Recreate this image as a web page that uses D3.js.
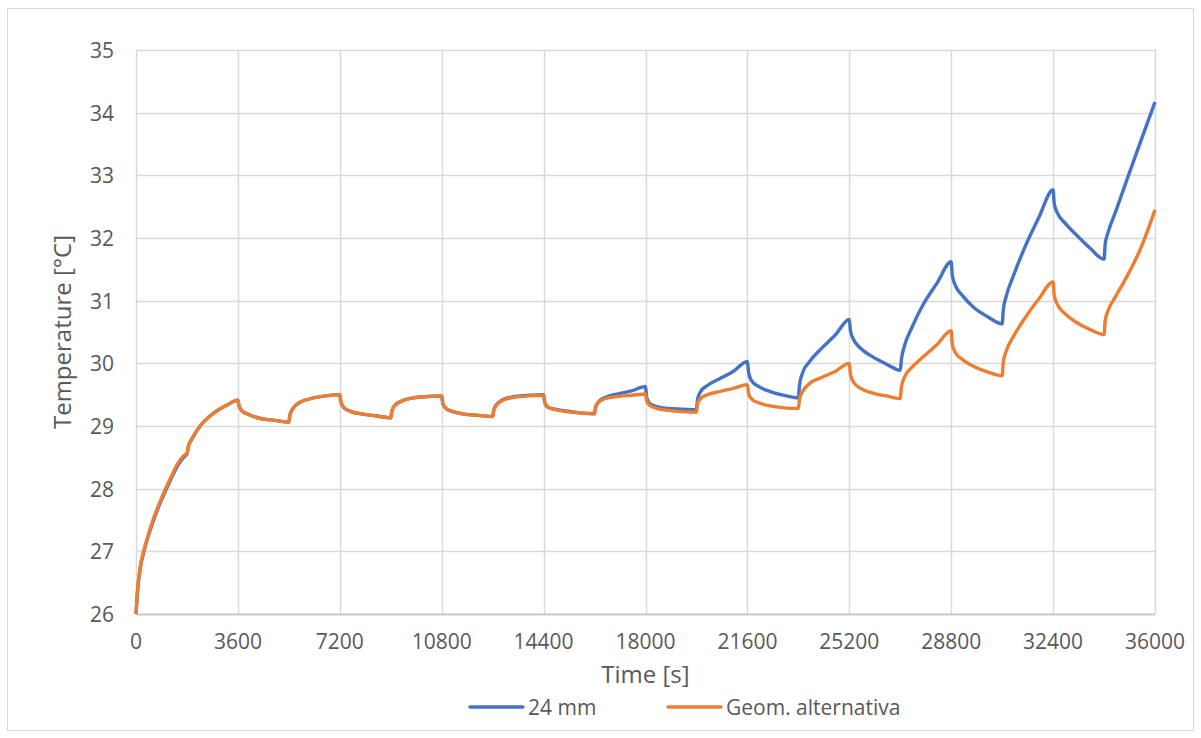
<!DOCTYPE html>
<html>
<head>
<meta charset="utf-8">
<script src="https://cdn.jsdelivr.net/npm/d3@7"></script>
<style>
  body { margin: 0; background: #fff; }
  text { font-family: "Open Sans", "Noto Sans", sans-serif; fill: #595959; }
</style>
</head>
<body>
<script>
// time stamps [s]
const times = [
  0, 50, 150, 300, 600, 900, 1200, 1500, 1750, 1800, 1850, 2000, 2300, 2700, 3200, 3600,
  3640, 3750, 4000, 4400, 4900, 5400,
  5440, 5550, 5800, 6200, 6700, 7200,
  7240, 7350, 7600, 8000, 8500, 9000,
  9040, 9150, 9400, 9800, 10300, 10800,
  10840, 10950, 11200, 11600, 12100, 12600,
  12640, 12750, 13000, 13400, 13900, 14400,
  14440, 14550, 14800, 15200, 15700, 16200,
  16240, 16350, 16600, 17000, 17500, 18000,
  18040, 18150, 18400, 18800, 19300, 19800,
  19840, 19950, 20200, 20600, 21100, 21600,
  21640, 21750, 22000, 22400, 22900, 23400,
  23440, 23550, 23800, 24200, 24700, 25200,
  25240, 25350, 25600, 26000, 26500, 27000,
  27040, 27150, 27400, 27800, 28300, 28800,
  28840, 28950, 29200, 29600, 30100, 30600,
  30640, 30750, 31000, 31400, 31900, 32400,
  32440, 32550, 32800, 33200, 33700, 34200,
  34240, 34350, 34600, 35000, 35500, 36000
];

const temp24mm = [
  26.00, 26.34, 26.73, 27.03, 27.47, 27.82, 28.12, 28.39, 28.53, 28.55, 28.67, 28.81, 29.02, 29.19, 29.33, 29.41,
  29.32, 29.24, 29.18, 29.12, 29.09, 29.06,
  29.18, 29.28, 29.38, 29.44, 29.48, 29.50,
  29.38, 29.29, 29.23, 29.19, 29.16, 29.13,
  29.24, 29.33, 29.40, 29.45, 29.47, 29.48,
  29.36, 29.28, 29.23, 29.19, 29.17, 29.15,
  29.26, 29.35, 29.43, 29.47, 29.49, 29.50,
  29.38, 29.30, 29.27, 29.24, 29.21, 29.20,
  29.31, 29.39, 29.46, 29.51, 29.56, 29.63,
  29.46, 29.36, 29.31, 29.28, 29.27, 29.26,
  29.43, 29.55, 29.65, 29.75, 29.87, 30.03,
  29.86, 29.72, 29.63, 29.55, 29.49, 29.45,
  29.65, 29.85, 30.03, 30.23, 30.45, 30.70,
  30.52, 30.38, 30.24, 30.11, 29.99, 29.89,
  30.06, 30.28, 30.56, 30.93, 31.28, 31.62,
  31.40, 31.24, 31.08, 30.89, 30.74, 30.63,
  30.85, 31.08, 31.40, 31.85, 32.33, 32.77,
  32.55, 32.40, 32.25, 32.06, 31.84, 31.66,
  31.90, 32.10, 32.41, 32.92, 33.55, 34.17
];

const tempAlt = [
  26.00, 26.35, 26.75, 27.05, 27.50, 27.85, 28.15, 28.42, 28.55, 28.56, 28.68, 28.82, 29.02, 29.19, 29.33, 29.41,
  29.32, 29.24, 29.18, 29.12, 29.09, 29.06,
  29.18, 29.28, 29.38, 29.44, 29.48, 29.50,
  29.38, 29.29, 29.23, 29.19, 29.16, 29.13,
  29.24, 29.33, 29.40, 29.45, 29.47, 29.48,
  29.36, 29.28, 29.23, 29.19, 29.17, 29.15,
  29.25, 29.34, 29.42, 29.46, 29.48, 29.49,
  29.38, 29.30, 29.26, 29.23, 29.21, 29.19,
  29.30, 29.38, 29.44, 29.47, 29.49, 29.51,
  29.40, 29.33, 29.28, 29.25, 29.23, 29.22,
  29.36, 29.44, 29.50, 29.55, 29.60, 29.66,
  29.52, 29.43, 29.37, 29.32, 29.29, 29.28,
  29.43, 29.55, 29.68, 29.77, 29.87, 30.00,
  29.82, 29.70, 29.60, 29.53, 29.48, 29.44,
  29.62, 29.78, 29.93, 30.10, 30.30, 30.52,
  30.30, 30.17, 30.06, 29.95, 29.86, 29.80,
  30.02, 30.20, 30.43, 30.72, 31.03, 31.30,
  31.08, 30.94, 30.80, 30.66, 30.54, 30.46,
  30.68, 30.85, 31.06, 31.38, 31.84, 32.45
];

const xTicks = d3.range(0, 36001, 3600);
const yTicks = d3.range(26, 36, 1);
const seriesNames = ["24 mm", "Geom. alternativa"];
const seriesColors = ["#4472C4", "#ED7D31"];

const W = 1201, H = 738;
const plot = {left: 136, right: 1155, top: 50, bottom: 614};

const svg = d3.select("body").append("svg")
    .attr("width", W)
    .attr("height", H);

// chart border
svg.append("rect")
    .attr("x", 7.5).attr("y", 8.5)
    .attr("width", 1186).attr("height", 722)
    .attr("fill", "#fff")
    .attr("stroke", "#d9d9d9");

const x = d3.scaleLinear().domain([0, 36000]).range([plot.left, plot.right]);
const y = d3.scaleLinear().domain([26, 35]).range([plot.bottom, plot.top]);

// gridlines
svg.append("g").selectAll("line")
    .data(yTicks).enter().append("line")
    .attr("x1", plot.left).attr("x2", plot.right)
    .attr("y1", d => Math.round(y(d)) + 0.5).attr("y2", d => Math.round(y(d)) + 0.5)
    .attr("stroke", "#d9d9d9").attr("stroke-width", 1.5);

svg.append("g").selectAll("line")
    .data(xTicks).enter().append("line")
    .attr("y1", plot.top).attr("y2", plot.bottom)
    .attr("x1", d => Math.round(x(d)) + 0.5).attr("x2", d => Math.round(x(d)) + 0.5)
    .attr("stroke", "#d9d9d9").attr("stroke-width", 1.5);

// axis line
svg.append("line")
    .attr("x1", plot.left).attr("x2", plot.right)
    .attr("y1", plot.bottom + 0.5).attr("y2", plot.bottom + 0.5)
    .attr("stroke", "#bfbfbf").attr("stroke-width", 1.5);

// y tick labels
svg.append("g").selectAll("text")
    .data(yTicks).enter().append("text")
    .attr("x", 114)
    .attr("y", d => y(d) + 8)
    .attr("text-anchor", "end")
    .style("font-size", "21px")
    .text(d => d);

// x tick labels
svg.append("g").selectAll("text")
    .data(xTicks).enter().append("text")
    .attr("x", d => x(d))
    .attr("y", 649)
    .attr("text-anchor", "middle")
    .style("font-size", "21px")
    .text(d => d);

// axis titles
svg.append("text")
    .attr("x", (plot.left + plot.right) / 2)
    .attr("y", 683)
    .attr("text-anchor", "middle")
    .style("font-size", "24px")
    .text("Time [s]");

svg.append("text")
    .attr("transform", "translate(71," + ((plot.top + plot.bottom) / 2) + ") rotate(-90)")
    .attr("text-anchor", "middle")
    .style("font-size", "24px")
    .text("Temperature [°C]");

// lines
const line = d3.line()
    .x((d, i) => x(times[i]))
    .y(d => y(d))
    .curve(d3.curveMonotoneX);

[temp24mm, tempAlt].forEach((vals, k) => {
    svg.append("path")
        .datum(vals)
        .attr("fill", "none")
        .attr("stroke", seriesColors[k])
        .attr("stroke-width", 3.4)
        .attr("stroke-linejoin", "round")
        .attr("d", line);
});

// legend
const legendX = [470, 668];
const legend = svg.append("g").selectAll("g")
    .data(seriesNames).enter().append("g")
    .attr("transform", (d, i) => "translate(" + legendX[i] + ",707)");

legend.append("line")
    .attr("x1", 0).attr("x2", 53)
    .attr("stroke", (d, i) => seriesColors[i])
    .attr("stroke-width", 3.4)
    .attr("stroke-linecap", "round");

legend.append("text")
    .attr("x", 58)
    .attr("y", 8)
    .style("font-size", "21px")
    .text(d => d);
</script>
</body>
</html>
